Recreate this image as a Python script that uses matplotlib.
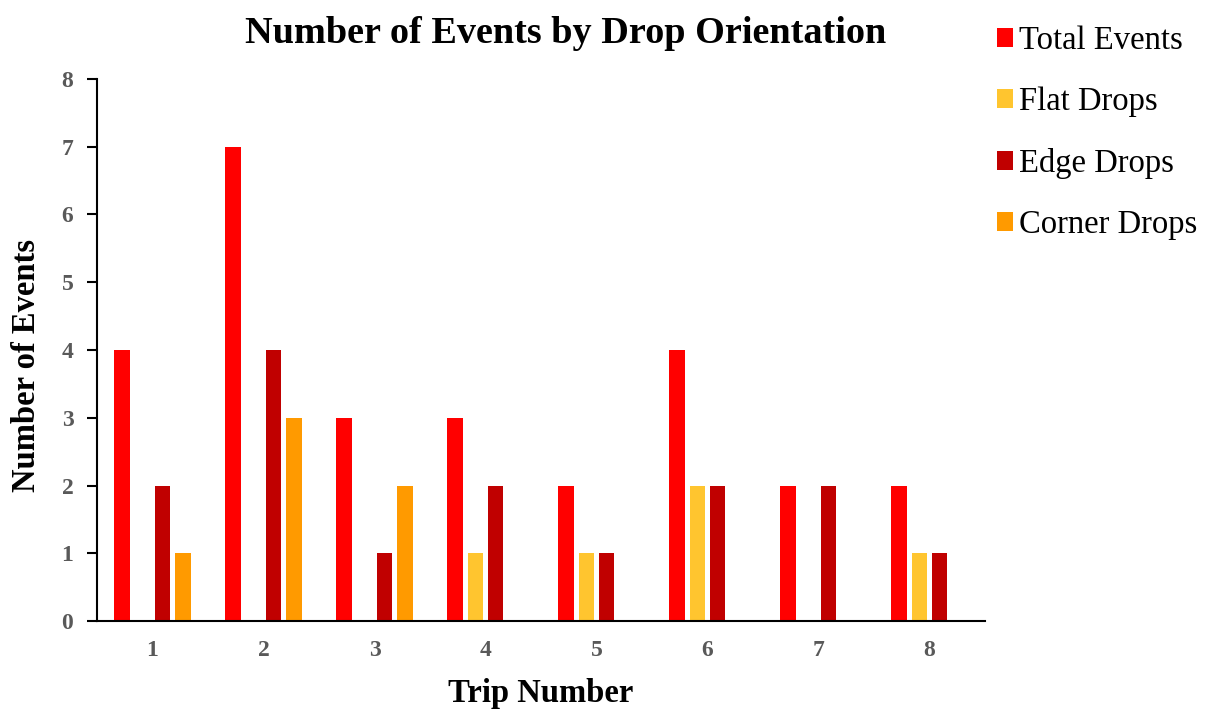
import matplotlib.pyplot as plt
import numpy as np

trips = [1, 2, 3, 4, 5, 6, 7, 8]
total_events = [4, 7, 3, 3, 2, 4, 2, 2]
flat_drops = [0, 0, 0, 1, 1, 2, 0, 1]
edge_drops = [2, 4, 1, 2, 1, 2, 2, 1]
corner_drops = [1, 3, 2, 0, 0, 0, 0, 0]

series = [
    ('Total Events', total_events, '#FF0000'),
    ('Flat Drops', flat_drops, '#FFC52F'),
    ('Edge Drops', edge_drops, '#C00000'),
    ('Corner Drops', corner_drops, '#FF9A00'),
]

plt.rcParams['font.family'] = ['Liberation Serif', 'DejaVu Serif']

fig = plt.figure(figsize=(12.06, 7.09), dpi=100)
ax = fig.add_axes([0.0804, 0.1241, 0.7363, 0.7645])

x = np.arange(len(trips))
step = 0.183
width = 0.14
for i, (name, vals, color) in enumerate(series):
    ax.bar(x + (i - 1.5) * step, vals, width, color=color, label=name)

ax.set_xlim(-0.5, len(trips) - 0.5)
ax.set_ylim(0, 8)
ax.set_xticks(x)
ax.set_xticklabels([str(t) for t in trips])
ax.set_yticks(range(9))

for s in ['top', 'right']:
    ax.spines[s].set_visible(False)
for s in ['left', 'bottom']:
    ax.spines[s].set_linewidth(1.5)
    ax.spines[s].set_color('black')

ax.tick_params(axis='x', length=0, pad=14)
ax.tick_params(axis='y', length=7, width=1.5, pad=10, direction='out')
for lab in ax.get_xticklabels() + ax.get_yticklabels():
    lab.set_fontsize(17)
    lab.set_fontweight('bold')
    lab.set_color('#595959')

ax.set_xlabel('Trip Number', fontsize=23.5, fontweight='bold', va='center')
ax.xaxis.set_label_coords(0.5, -0.133)
ax.set_ylabel('Number of Events', fontsize=23.5, fontweight='bold', va='center')
ax.yaxis.set_label_coords(-0.079, 0.4705)
fig.suptitle('Number of Events by Drop Orientation', x=0.469, y=0.978,
             fontsize=27.5, fontweight='bold')

ax.legend(loc='upper left', bbox_to_anchor=(0.98, 1.153), frameon=False,
          fontsize=23.5, handlelength=0.5, handleheight=0.5,
          handletextpad=0.2, labelspacing=0.94)

fig.savefig('out.png', dpi=100)
